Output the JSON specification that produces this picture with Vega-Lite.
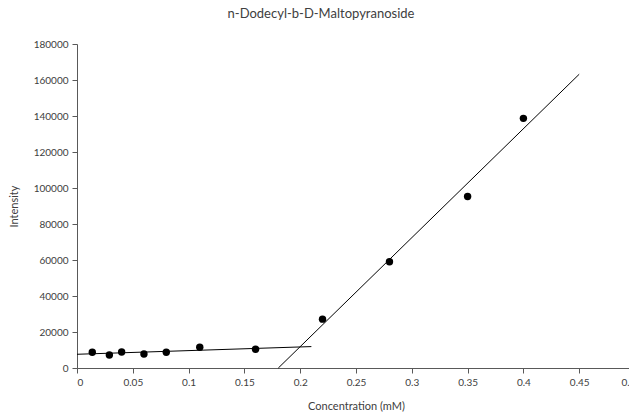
{
  "$schema": "https://vega.github.io/schema/vega-lite/v6.json",
  "width": 558,
  "height": 324,
  "autosize": {"type": "none"},
  "padding": {"left": 77, "top": 44, "right": 0, "bottom": 46},
  "background": "white",
  "title": {"text": "n-Dodecyl-b-D-Maltopyranoside", "font": "Lato", "fontSize": 13, "fontWeight": "normal", "color": "#404040", "anchor": "middle", "dx": -35, "offset": 18},
  "config": {
    "view": {"stroke": null},
    "axis": {"grid": false, "labelFont": "Lato", "labelFontSize": 10, "labelColor": "#404040", "labelOverlap": false, "labelBound": false, "titleFont": "Lato", "titleFontSize": 11, "titleFontWeight": "normal", "titleColor": "#404040", "domainColor": "#595959", "tickColor": "#595959", "tickSize": 5}
  },
  "datasets": {
    "pts": [
      {"c": 0.0137, "i": 8740},
      {"c": 0.029, "i": 7240},
      {"c": 0.04, "i": 8900},
      {"c": 0.06, "i": 7800},
      {"c": 0.08, "i": 8740},
      {"c": 0.11, "i": 11530},
      {"c": 0.16, "i": 10420},
      {"c": 0.22, "i": 27130},
      {"c": 0.28, "i": 59040},
      {"c": 0.35, "i": 95250},
      {"c": 0.40, "i": 138700}
    ],
    "fits": [
      {"s": "low", "c": 0, "i": 7630},
      {"s": "low", "c": 0.21, "i": 11900},
      {"s": "high", "c": 0.1804, "i": 0},
      {"s": "high", "c": 0.45, "i": 163200}
    ]
  },
  "encoding": {
    "x": {"field": "c", "type": "quantitative", "scale": {"domain": [0, 0.5], "nice": false}, "axis": {"title": "Concentration (mM)", "values": [0, 0.05, 0.1, 0.15, 0.2, 0.25, 0.3, 0.35, 0.4, 0.45, 0.5], "format": "~g", "labelOverlap": false, "labelPadding": 4, "titlePadding": 13}},
    "y": {"field": "i", "type": "quantitative", "scale": {"domain": [0, 180000], "nice": false}, "axis": {"title": "Intensity", "values": [0, 20000, 40000, 60000, 80000, 100000, 120000, 140000, 160000, 180000], "format": "d", "labelOverlap": false, "labelPadding": 4, "titlePadding": 14}}
  },
  "layer": [
    {
      "data": {"name": "fits"},
      "mark": {"type": "line", "color": "black", "strokeWidth": 1},
      "encoding": {
        "detail": {"field": "s"}
      }
    },
    {
      "data": {"name": "pts"},
      "mark": {"type": "circle", "color": "black", "opacity": 1, "size": 55}
    }
  ]
}
